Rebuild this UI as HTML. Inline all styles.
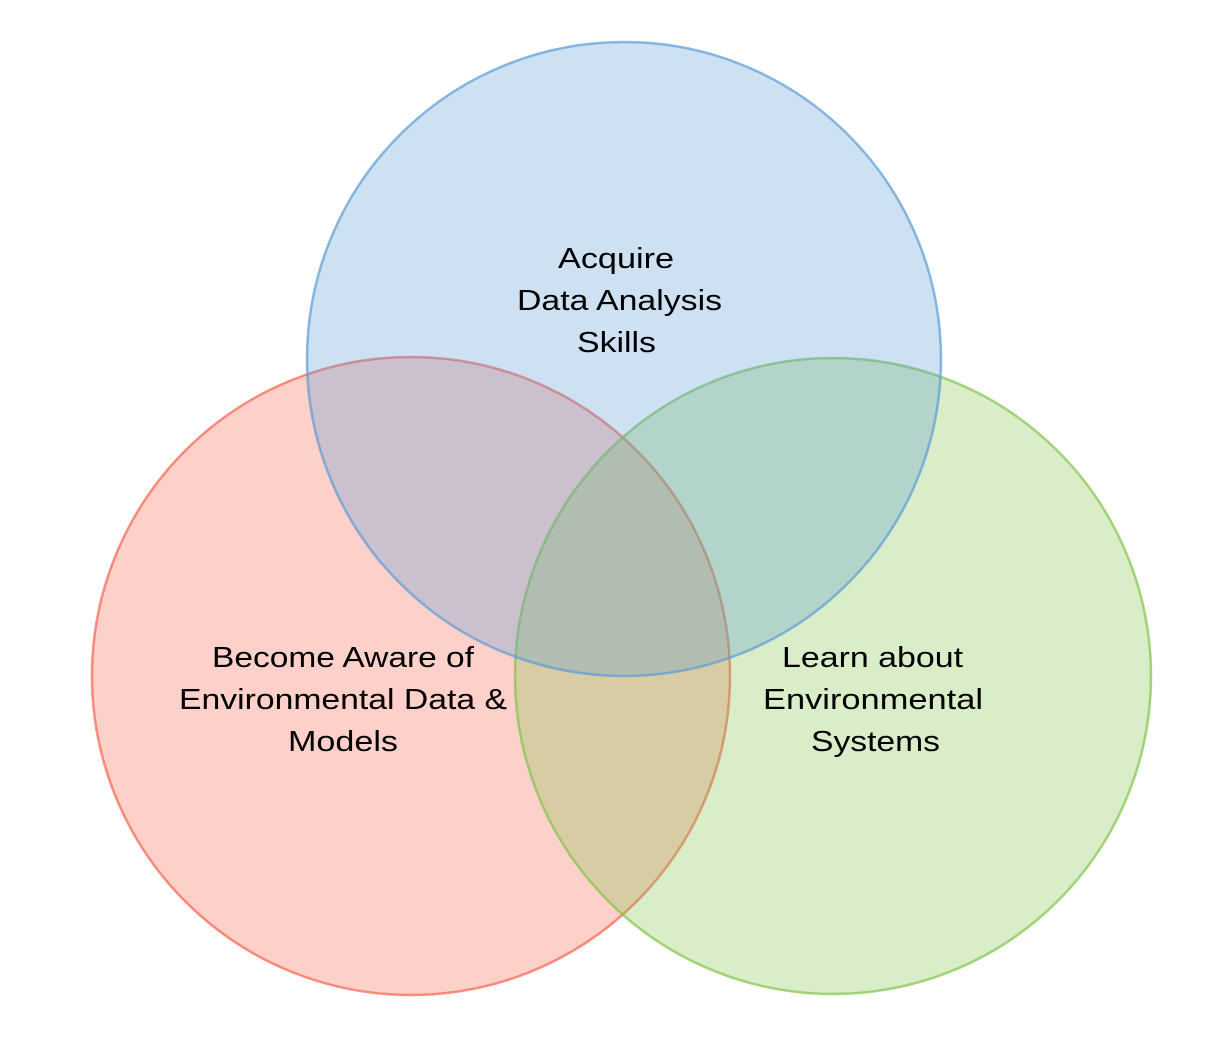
<!DOCTYPE html>
<html><head><meta charset="utf-8"><style>
html,body{margin:0;padding:0;background:#fff;width:1216px;height:1045px;overflow:hidden}
text{font-family:"Liberation Sans",sans-serif;font-size:28.5px;fill:#000}
</style></head><body>
<svg width="1216" height="1045" viewBox="0 0 1216 1045">
<circle cx="411" cy="676" r="319" fill="#f8624e" fill-opacity="0.3" stroke="#f8624e" stroke-opacity="0.7" stroke-width="2.5"/>
<circle cx="833" cy="676" r="318" fill="#80c348" fill-opacity="0.3" stroke="#80c348" stroke-opacity="0.7" stroke-width="2.5"/>
<circle cx="624" cy="359" r="317" fill="#5b9bd5" fill-opacity="0.3" stroke="#5b9bd5" stroke-opacity="0.7" stroke-width="2.5"/>
<g lengthAdjust="spacingAndGlyphs">
<text x="558" y="268" textLength="116" lengthAdjust="spacingAndGlyphs">Acquire</text>
<text x="517" y="310" textLength="205" lengthAdjust="spacingAndGlyphs">Data Analysis</text>
<text x="577" y="352" textLength="79" lengthAdjust="spacingAndGlyphs">Skills</text>
<text x="212" y="667" textLength="262" lengthAdjust="spacingAndGlyphs">Become Aware of</text>
<text x="179" y="709" textLength="328" lengthAdjust="spacingAndGlyphs">Environmental Data &amp;</text>
<text x="288" y="751" textLength="110" lengthAdjust="spacingAndGlyphs">Models</text>
<text x="782" y="667" textLength="181" lengthAdjust="spacingAndGlyphs">Learn about</text>
<text x="763" y="709" textLength="220" lengthAdjust="spacingAndGlyphs">Environmental</text>
<text x="811" y="751" textLength="129" lengthAdjust="spacingAndGlyphs">Systems</text>
</g>
</svg>
</body></html>
